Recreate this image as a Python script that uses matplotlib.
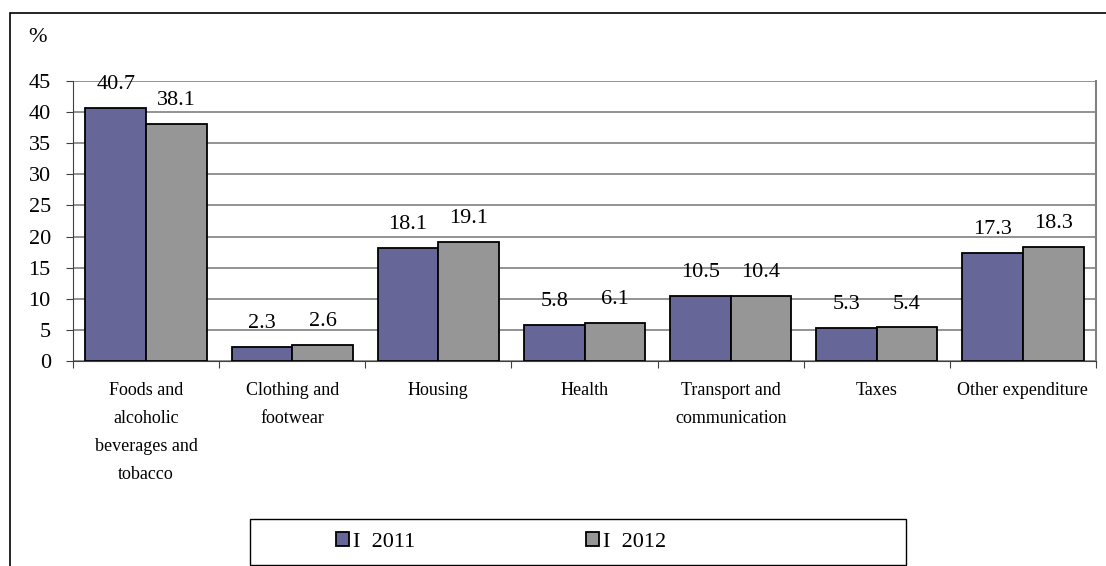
import numpy as np
import matplotlib.pyplot as plt
from matplotlib.patches import Rectangle

plt.rcParams['font.family'] = ['Liberation Serif', 'DejaVu Serif']

categories = ['Foods and\nalcoholic\nbeverages and\ntobacco', 'Clothing and\nfootwear', 'Housing',
              'Health', 'Transport and\ncommunication', 'Taxes', 'Other expenditure']
v2011 = [40.7, 2.3, 18.1, 5.8, 10.5, 5.3, 17.3]
v2012 = [38.1, 2.6, 19.1, 6.1, 10.4, 5.4, 18.3]
series = ['I  2011', 'I  2012']
colors = ['#666699', '#969696']

fig = plt.figure(figsize=(11.06, 5.66), dpi=100)
W, H = 1106, 566
ax = fig.add_axes([73 / W, 1 - 361 / H, (1096 - 73) / W, (361 - 81) / H])

# outer chart frame
fig.patches.append(Rectangle((10 / W, -0.1), 1.2, 1 - 13 / H + 0.1, transform=fig.transFigure,
                             fill=False, edgecolor='black', linewidth=1.2))
# legend frame
fig.patches.append(Rectangle((250 / W, 1 / H), (906 - 250) / W, 46 / H, transform=fig.transFigure,
                             fill=False, edgecolor='black', linewidth=1.0))

x = np.arange(len(categories))
w = 0.415
b1 = ax.bar(x - w / 2, v2011, w, color=colors[0], edgecolor='black', linewidth=1.3, label=series[0], zorder=3)
b2 = ax.bar(x + w / 2, v2012, w, color=colors[1], edgecolor='black', linewidth=1.3, label=series[1], zorder=3)

for bars, vals in [(b1, v2011), (b2, v2012)]:
    for r, v in zip(bars, vals):
        ax.annotate(f'{v:.1f}', (r.get_x() + r.get_width() / 2, v), xytext=(0, 10),
                    textcoords='offset points', ha='center', va='bottom', fontsize=16, zorder=4)

ax.set_xlim(-0.5, len(categories) - 0.5)
ax.set_ylim(0, 45)
ax.set_yticks(np.arange(0, 46, 5))
ax.yaxis.grid(True, color='#808080', linewidth=1.2, zorder=0)
ax.set_xticks(np.arange(-0.5, len(categories), 1))
ax.set_xticklabels([])
ax.set_xticks(x, minor=True)
ax.set_xticklabels(categories, minor=True, fontsize=13, linespacing=1.85, va='top')
ax.tick_params(axis='x', which='minor', length=0, pad=15)
ax.tick_params(axis='x', which='major', length=5, direction='out', color='#404040')
ax.tick_params(axis='y', labelsize=16, length=5, color='#404040', pad=11)

ax.spines['top'].set_visible(False)
ax.spines['right'].set_color('#808080')
ax.spines['right'].set_linewidth(1.5)
ax.spines['left'].set_color('#404040')
ax.spines['bottom'].set_color('#404040')

fig.text(28 / W, 1 - 38 / H, '%', fontsize=16, ha='left', va='center')

leg = fig.legend(loc='center left', bbox_to_anchor=(336 / W, 24 / H), ncol=2, fontsize=16,
                 frameon=False, handlelength=0.6, handleheight=0.6, handletextpad=0.15,
                 columnspacing=7.7, borderaxespad=0, borderpad=0)

fig.savefig('out.png', dpi=100)
